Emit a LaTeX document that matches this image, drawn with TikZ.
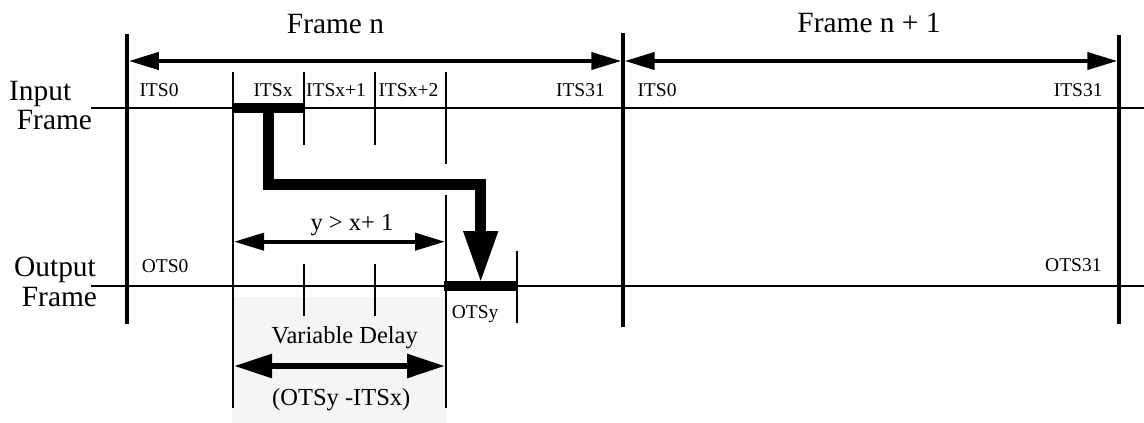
\documentclass[tikz,border=0pt]{standalone}
\usepackage{fontspec}
\setmainfont{Liberation Serif}
\usetikzlibrary{arrows.meta}
\begin{document}
\begin{tikzpicture}[x=1pt,y=-1pt,
  big/.style={font=\fontsize{29.4}{30}\selectfont,inner sep=0pt},
  mid/.style={font=\fontsize{24.5}{26}\selectfont,inner sep=0pt},
  small/.style={font=\fontsize{19.5}{21}\selectfont,inner sep=0pt},
  frameline/.style={line width=3.3pt},
  timeline/.style={line width=2pt},
  tick/.style={line width=1.3pt},
  slotbar/.style={line width=10pt},
  dimarrow/.style={line width=4pt,{Triangle[length=30pt,width=17pt]}-{Triangle[length=30pt,width=17pt]}},
  delayarrow/.style={line width=6pt,{Triangle[length=38pt,width=23pt]}-{Triangle[length=38pt,width=23pt]}},
  switchpath/.style={line width=10.5pt,line join=miter,-{Triangle[length=52pt,width=32pt]}}]
\useasboundingbox (0,0) rectangle (1144,423);
% grey delay box
\fill[gray!8] (232,297) rectangle (446,423);
% coordinates
\coordinate (inL) at (91,107.7);   \coordinate (inR) at (1144,107.7);
\coordinate (outL) at (91,285.7);  \coordinate (outR) at (1144,285.7);
\coordinate (f0t) at (127,34);  \coordinate (f0b) at (127,324);
\coordinate (f1t) at (623,33);  \coordinate (f1b) at (623,327);
\coordinate (f2t) at (1119,35); \coordinate (f2b) at (1119,324);
% time lines
\draw[timeline] (inL) -- (inR);
\draw[timeline] (outL) -- (outR);
% frame boundaries
\draw[frameline] (f0t) -- (f0b);
\draw[frameline] (f1t) -- (f1b);
\draw[frameline] (f2t) -- (f2b);
% frame arrows
\coordinate (a0) at (128.8,61); \coordinate (a1) at (621.3,61);
\coordinate (a2) at (624.7,61); \coordinate (a3) at (1117.3,61);
\draw[dimarrow] (a0) -- (a1);
\draw[dimarrow] (a2) -- (a3);
% slot ticks
\coordinate (tx0t) at (233,72);   \coordinate (tx0b) at (233,408);
\coordinate (tx1t) at (304,72);   \coordinate (tx1b) at (304,145);
\coordinate (tx2t) at (375,72);   \coordinate (tx2b) at (375,145);
\coordinate (tx3t) at (446,72);   \coordinate (tx3m) at (446,164);
\coordinate (tx3n) at (446,195);  \coordinate (tx3b) at (446,408);
\coordinate (ty1t) at (304,264); \coordinate (ty1b) at (304,316);
\coordinate (ty2t) at (375,264); \coordinate (ty2b) at (375,316);
\coordinate (tyyt) at (517,251); \coordinate (tyyb) at (517,323);
\draw[tick] (tx0t) -- (tx0b);
\draw[tick] (tx1t) -- (tx1b);
\draw[tick] (tx2t) -- (tx2b);
\draw[tick] (tx3t) -- (tx3m);
\draw[tick] (tx3n) -- (tx3b);
\draw[tick] (ty1t) -- (ty1b);
\draw[tick] (ty2t) -- (ty2b);
\draw[tick] (tyyt) -- (tyyb);
% highlighted slots
\coordinate (bx0) at (231.5,107.7); \coordinate (bx1) at (304.5,107.7);
\coordinate (by0) at (443.5,285.7); \coordinate (by1) at (517,285.7);
\draw[slotbar] (bx0) -- (bx1);
\draw[slotbar] (by0) -- (by1);
% switching path
\coordinate (s0) at (268.7,108); \coordinate (s1) at (268.7,184.3);
\coordinate (s2) at (480.7,184.3); \coordinate (s3) at (480.7,283);
\draw[switchpath] (s0) -- (s1) -- (s2) -- (s3);
% y > x+1 arrow
\coordinate (d0) at (234,241.7); \coordinate (d1) at (445,241.7);
\draw[dimarrow] (d0) -- (d1);
% variable delay arrow
\coordinate (v0) at (234,366); \coordinate (v1) at (445,366);
\draw[delayarrow] (v0) -- (v1);
% labels
\node[big,anchor=base] (fn) at (335.5,33) {Frame n};
\node[big,anchor=base] (fn1) at (869,32.7) {Frame n + 1};
\node[big,anchor=base west] (inp) at (9,100) {Input};
\node[big,anchor=base west] (inf) at (16.7,129.3) {Frame};
\node[big,anchor=base west] (outp) at (14,276.7) {Output};
\node[big,anchor=base west] (outf) at (21.7,306.7) {Frame};
\node[small,anchor=base west] (i0) at (139.3,96.7) {ITS0};
\node[small,anchor=base west] (ix) at (253.3,96.7) {ITSx};
\node[small,anchor=base west] (ix1) at (306,96.7) {ITSx+1};
\node[small,anchor=base west] (ix2) at (378.3,96.7) {ITSx+2};
\node[small,anchor=base east] (i31) at (605,96.7) {ITS31};
\node[small,anchor=base west] (j0) at (637.3,96.7) {ITS0};
\node[small,anchor=base east] (j31) at (1102.7,96.7) {ITS31};
\node[small,anchor=base west] (o0) at (141.7,272.7) {OTS0};
\node[small,anchor=base east] (o31) at (1101.7,271.7) {OTS31};
\node[small,anchor=base west] (oy) at (451.7,318.3) {OTSy};
\node[mid,anchor=base] (cond) at (352,230.7) {y > x+ 1};
\node[mid,anchor=base] (vd) at (344.7,343.3) {Variable Delay};
\node[mid,anchor=base] (diff) at (341.3,405) {(OTSy -ITSx)};
\end{tikzpicture}
\end{document}
